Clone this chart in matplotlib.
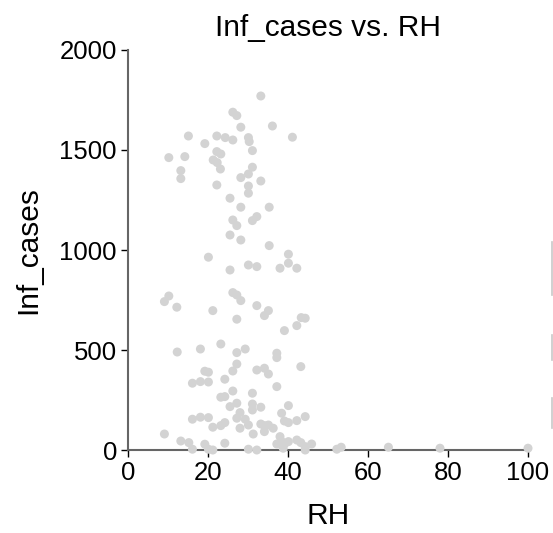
import numpy as np
import matplotlib
matplotlib.use('Agg')
import matplotlib.pyplot as plt
from matplotlib.lines import Line2D

# relative humidity (%) for each observation
rh = [15.1, 22.2, 24.3, 19.2, 22.2, 23.2, 10.2, 14.2, 21.3, 22.3, 23.1, 13.2, 13.2, 22.2,
      20.1, 10.2, 9.1, 12.2, 21.2,
      12.3, 18.1, 23.2, 19.2, 20.1, 16.1, 18.1, 20.1, 24.2, 23.2, 24.2, 16.1, 18.1, 20.1,
      21.2, 23.2, 24.2, 9.1, 13.2, 15.2, 16.1, 19.2, 20.1, 21.2, 24.2,
      33.2, 26.2, 27.2, 28.2, 36.1, 26.2, 30.1, 30.3, 41.1, 31.1, 31.1, 30.1, 28.2, 33.2,
      30.1, 30.1, 25.5, 28.2, 35.3, 26.2, 27.2, 31.1, 32.2, 25.5, 28.2, 35.3, 40.1,
      30.1, 32.2, 38.0, 40.1, 42.2, 25.5, 26.2, 27.2, 28.2, 32.2, 35.1, 34.1, 27.2, 39.1,
      42.2, 43.3, 44.3, 27.2, 29.3, 37.2, 37.2, 27.2, 26.2, 32.2, 34.1, 35.1, 43.2, 37.2,
      26.2, 31.1, 27.2, 31.1, 31.1, 33.2, 40.1, 25.5, 28.0, 27.2, 29.3, 30.1, 38.4, 39.1,
      40.1, 42.2, 44.3, 28.0, 31.3, 33.2, 34.1, 35.1, 36.3, 34.1, 38.0, 38.4, 37.2, 39.3,
      40.1, 42.2, 43.2, 44.3, 45.9, 30.1, 32.2, 38.8, 44.3, 52.2,
      53.3, 65.1, 78.0, 100.0]

# infected cases
inf_cases = [1570, 1570, 1562, 1532, 1492, 1480, 1462, 1467, 1450, 1437, 1405, 1397, 1357, 1325,
             964, 770, 742, 714, 697,
             490, 505, 530, 394, 389, 334, 342, 340, 354, 264, 267, 154, 164, 162,
             114, 122, 137, 80, 45, 37, 4, 29, 4, 0, 34,
             1770, 1689, 1672, 1614, 1620, 1550, 1562, 1542, 1564, 1497, 1414, 1380, 1362, 1345,
             1320, 1284, 1259, 1214, 1214, 1150, 1122, 1147, 1167, 1075, 1050, 1022, 979,
             925, 917, 909, 934, 909, 900, 787, 775, 747, 722, 697, 672, 654, 597,
             622, 662, 659, 487, 505, 484, 462, 430, 395, 400, 409, 380, 417, 317,
             295, 284, 234, 230, 200, 214, 222, 217, 187, 159, 154, 125, 184, 145,
             137, 147, 167, 109, 80, 130, 122, 125, 109, 92, 67, 42, 30, 34,
             42, 50, 37, 17, 30, 4, 0, 9, 0, 4,
             14, 14, 9, 9]

plt.rcParams['font.family'] = ['Liberation Sans', 'DejaVu Sans']

fig = plt.figure(figsize=(5.53, 5.33), dpi=100)
ax = fig.add_axes([0.2315, 0.1557, 0.7233, 0.7505])

ax.scatter(rh, inf_cases, s=42, color='#d3d3d3', edgecolors='none', zorder=3, clip_on=False)

ax.set_xlim(0, 100)
ax.set_ylim(0, 2000)
ax.set_xticks([0, 20, 40, 60, 80, 100])
ax.set_yticks([0, 500, 1000, 1500, 2000])
ax.tick_params(labelsize=18.5, length=5, width=1, color='black', pad=3)

for s in ['top', 'right']:
    ax.spines[s].set_visible(False)
for s in ['left', 'bottom']:
    ax.spines[s].set_color('#666666')
    ax.spines[s].set_linewidth(1.5)

ax.set_title("Inf_cases vs. RH", fontsize=21.5, pad=10)
ax.set_xlabel("RH", fontsize=21.5, labelpad=12)
ax.set_ylabel("Inf_cases", fontsize=21.5, labelpad=12)

# clipped legend edge at the right border of the image
for y0, y1 in [(242, 295), (335, 360), (398, 428)]:
    fig.add_artist(Line2D([551.5 / 553, 551.5 / 553], [1 - y0 / 533, 1 - y1 / 533],
                          color='#c8c8c8', lw=1.2))

fig.savefig('out.png', dpi=100)
